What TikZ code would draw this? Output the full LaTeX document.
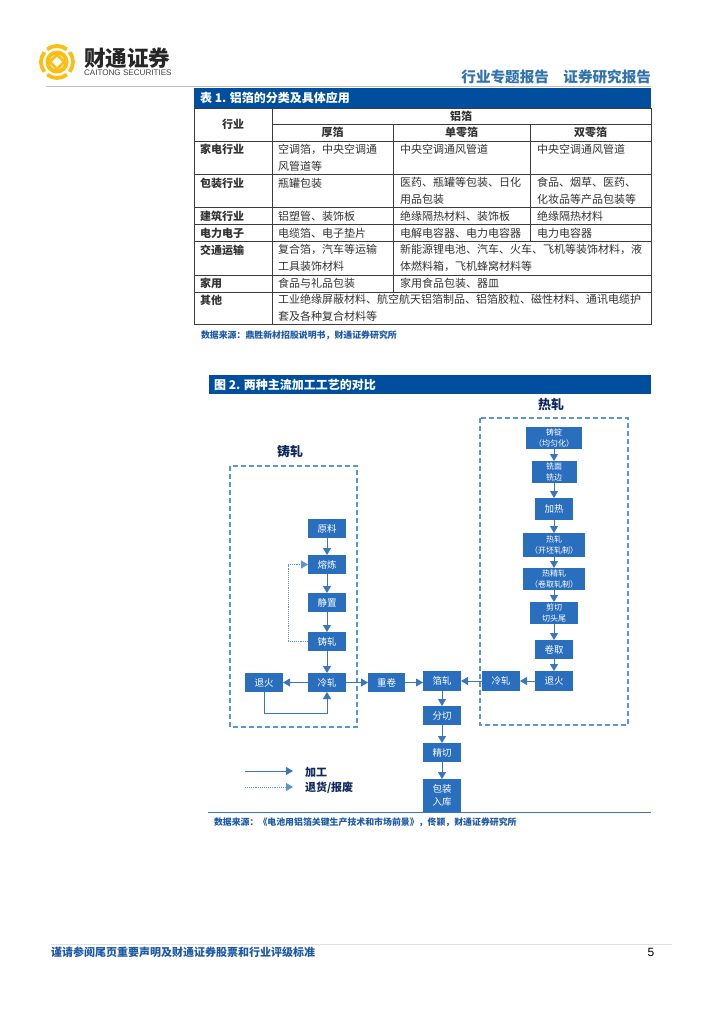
\documentclass[tikz,border=0pt]{standalone}
\usepackage{fontspec}
\setmainfont{Noto Sans CJK SC}
\newfontfamily\latinsans{Liberation Sans}
\usetikzlibrary{arrows.meta}
\definecolor{bandblue}{RGB}{0,78,158}
\definecolor{boxblue}{RGB}{42,110,190}
\definecolor{arrowblue}{RGB}{58,117,190}
\definecolor{dashblue}{RGB}{90,150,215}
\definecolor{headblue}{RGB}{50,115,175}
\definecolor{srcblue}{RGB}{30,90,165}
\definecolor{navy}{RGB}{15,40,95}
\definecolor{tablegrey}{RGB}{60,60,60}
\definecolor{logogold}{RGB}{250,190,20}
\tikzset{
  every node/.style={inner sep=0pt,outer sep=0pt},
  tline/.style={draw=tablegrey,line width=0.8pt},
  tc/.style={anchor=west,align=left,text=black!80,font=\fontsize{11}{16.6}\selectfont},
  tl/.style={anchor=west,align=left,text=black!80,font=\fontsize{11}{16.6}\bfseries\selectfont},
  th/.style={anchor=center,align=center,text=black!80,font=\fontsize{11}{16.6}\bfseries\selectfont},
  pbox/.style={fill=boxblue,text=white,align=center,font=\fontsize{9.5}{12.5}\selectfont},
  small/.style={font=\fontsize{8}{11}\selectfont},
  flow/.style={draw=arrowblue,line width=0.8pt,-{Triangle[length=7pt,width=8pt]}},
  backflow/.style={draw=dashblue,line width=0.9pt,densely dotted,-{Triangle[length=7pt,width=8pt]}},
  region/.style={draw=dashblue,line width=1.1pt,dash pattern=on 5pt off 3pt},
  band/.style={fill=bandblue,text=white,anchor=west},
  src/.style={anchor=west,text=srcblue,font=\fontsize{8.9}{11}\bfseries\selectfont},
  flowtitle/.style={anchor=center,text=navy,font=\fontsize{13}{15}\bfseries\selectfont},
  legend/.style={anchor=west,text=navy,font=\fontsize{11}{13}\bfseries\selectfont}
}
\newcommand{\pb}[7][]{\node[pbox,#1,minimum width=#5pt,minimum height=#6pt] (#2) at (#3,#4) {#7};}
\begin{document}
\begin{tikzpicture}[x=1pt,y=-1pt]
\useasboundingbox (0,0) rectangle (724,1024);
\fill[white] (0,0) rectangle (724,1024);

% logo
\begin{scope}[shift={(57,62)}]
  \draw[logogold,line width=3.8pt] (-38:16) arc (-38:38:16);
  \draw[logogold,line width=3.8pt] (142:16) arc (142:218:16);
  \draw[logogold,line width=3.8pt] (52:16) arc (52:128:16);
  \draw[logogold,line width=3.8pt] (232:16) arc (232:308:16);
  \draw[logogold,line width=4pt] (0,0) circle (9.5);
  \fill[logogold] (0,-9) -- (9,0) -- (0,9) -- (-9,0) -- cycle;
  \fill[white] (0,-5) -- (5,0) -- (0,5) -- (-5,0) -- cycle;
\end{scope}
\node[anchor=west,text=black!85,font=\fontsize{21.6}{23}\bfseries\selectfont] (logotext) at (84,58) {财通证券};
\node[anchor=west,text=black!75,font=\fontsize{8.1}{9}\latinsans\selectfont] (logolatin) at (84,72.5) {CAITONG SECURITIES};
\node[anchor=east,text=headblue,font=\fontsize{14.6}{16}\bfseries\selectfont] (headb) at (651,77) {证券研究报告};
\node[anchor=east,text=headblue,font=\fontsize{14.6}{16}\bfseries\selectfont] (heada) at (549,77) {行业专题报告};
\draw[black!25,line width=1.8pt] (46,86.5) -- (651,86.5);

% table
\node[band,minimum width=457pt,minimum height=20pt] (tabband) at (194,98) {};
\node[anchor=west,text=white,font=\fontsize{12}{14}\bfseries\selectfont] (tabtitle) at (200,98) {表 1. 铝箔的分类及具体应用};
\draw[tline] (194,108) rectangle (651,324);
\foreach \yy in {141,174,207,224,241,275,292} \draw[tline] (194,\yy) -- (651,\yy);
\draw[tline] (272,108) -- (272,324);
\draw[tline] (272,124) -- (651,124);
\draw[tline] (393,124) -- (393,292);
\draw[tline] (530,124) -- (530,241);

\node[th] (hind) at (233,124.5) {行业};
\node[th] (hal) at (461,116) {铝箔};
\node[th] (ha) at (332.5,132.5) {厚箔};
\node[th] (hb) at (461.5,132.5) {单零箔};
\node[th] (hc) at (590.5,132.5) {双零箔};

\node[tl] (r1) at (200,149) {家电行业};
\node[tc] (r1a) at (278,157.5) {空调箔，中央空调通\\风管道等};
\node[tc] (r1b) at (400,149) {中央空调通风管道};
\node[tc] (r1c) at (537,149) {中央空调通风管道};

\node[tl] (r2) at (200,183) {包装行业};
\node[tc] (r2a) at (278,183) {瓶罐包装};
\node[tc] (r2b) at (400,191) {医药、瓶罐等包装、日化\\用品包装};
\node[tc] (r2c) at (537,191) {食品、烟草、医药、\\化妆品等产品包装等};

\node[tl] (r3) at (200,216) {建筑行业};
\node[tc] (r3a) at (278,216) {铝塑管、装饰板};
\node[tc] (r3b) at (400,216) {绝缘隔热材料、装饰板};
\node[tc] (r3c) at (537,216) {绝缘隔热材料};

\node[tl] (r4) at (200,233) {电力电子};
\node[tc] (r4a) at (278,233) {电缆箔、电子垫片};
\node[tc] (r4b) at (400,233) {电解电容器、电力电容器};
\node[tc] (r4c) at (537,233) {电力电容器};

\node[tl] (r5) at (200,250) {交通运输};
\node[tc] (r5a) at (278,258) {复合箔，汽车等运输\\工具装饰材料};
\node[tc] (r5b) at (400,258) {新能源锂电池、汽车、火车、飞机等装饰材料，液\\体燃料箱，飞机蜂窝材料等};

\node[tl] (r6) at (200,283.5) {家用};
\node[tc] (r6a) at (278,283.5) {食品与礼品包装};
\node[tc] (r6b) at (400,283.5) {家用食品包装、器皿};

\node[tl] (r7) at (200,300) {其他};
\node[tc] (r7a) at (278,308) {工业绝缘屏蔽材料、航空航天铝箔制品、铝箔胶粒、磁性材料、通讯电缆护\\套及各种复合材料等};

\node[src] (tabsrc) at (201,335) {数据来源：鼎胜新材招股说明书，财通证券研究所};

% figure
\node[band,minimum width=442pt,minimum height=19pt] (figband) at (209,384.5) {};
\node[anchor=west,text=white,font=\fontsize{12}{14}\bfseries\selectfont] (figtitle) at (214,384.5) {图 2. 两种主流加工工艺的对比};

\draw[region] (230,466) rectangle (357,727);
\draw[region] (480,418) rectangle (628,725);
\node[flowtitle] (ttl) at (290,452) {铸轧};
\node[flowtitle] (ttr) at (551,405) {热轧};

% left column
\pb{yl}{327}{528.5}{38}{19}{原料}
\pb{rl}{327}{564.5}{38}{19}{熔炼}
\pb{jz}{327}{602.5}{38}{19}{静置}
\pb{zz}{327}{641.5}{38}{19}{铸轧}
\pb{lz}{327}{682.5}{38}{19}{冷轧}
\pb{th}{264}{682.5}{38}{19}{退火}
\pb{cj}{386.5}{682.5}{37}{19}{重卷}

% centre column
\pb{bz}{442}{681}{38}{20}{箔轧}
\pb{fq}{442}{715.5}{38}{19}{分切}
\pb{jq}{442}{752.5}{38}{19}{精切}
\pb{bj}{442}{795.5}{38}{33}{包装\\入库}

% right column
\pb[small]{zd}{554}{438}{56}{22}{铸锭\\（均匀化）}
\pb[small]{xm}{554}{472}{45}{22}{铣面\\铣边}
\pb{jr}{554}{509}{38}{22}{加热}
\pb[small]{rz}{554}{545}{62}{24}{热轧\\（开坯轧制）}
\pb[small]{rj}{554}{579}{62}{22}{热精轧\\（卷取轧制）}
\pb[small]{jq2}{554}{613}{48}{22}{剪切\\切头尾}
\pb{jn}{554}{649.5}{38}{19}{卷取}
\pb{th2}{554}{681}{38}{20}{退火}
\pb{lz2}{501}{681}{38}{20}{冷轧}

% connectors
\draw[flow] (yl) -- (rl);
\draw[flow] (rl) -- (jz);
\draw[flow] (jz) -- (zz);
\draw[flow] (zz) -- (lz);
\draw[flow] (lz) -- (th);
\draw[flow] (lz.east) -- (cj.west);
\draw[flow] (cj.east) -- (bz.west |- cj.east);
\coordinate (loopa) at (264,713);
\coordinate (loopb) at (327,713);
\draw[flow] (th.south) -- (loopa) -- (loopb) -- (lz.south);
\coordinate (backa) at (288,641.5);
\coordinate (backb) at (288,564.5);
\draw[backflow] (zz.west) -- (backa) -- (backb) -- (rl.west);
\draw[flow] (zd) -- (xm);
\draw[flow] (xm) -- (jr);
\draw[flow] (jr) -- (rz);
\draw[flow] (rz) -- (rj);
\draw[flow] (rj) -- (jq2);
\draw[flow] (jq2) -- (jn);
\draw[flow] (jn) -- (th2);
\draw[flow] (th2) -- (lz2);
\draw[flow] (lz2) -- (bz);
\draw[flow] (bz) -- (fq);
\draw[flow] (fq) -- (jq);
\draw[flow] (jq) -- (bj);

% legend
\coordinate (la1) at (245,771);
\coordinate (la2) at (293,771);
\coordinate (lb1) at (245,787);
\coordinate (lb2) at (293,787);
\draw[flow] (la1) -- (la2);
\draw[backflow] (lb1) -- (lb2);
\node[legend] (lega) at (305,772) {加工};
\node[legend] (legb) at (305,788) {退货/报废};

\draw[arrowblue,line width=0.8pt] (208,812.5) -- (651,812.5);
\node[src] (figsrc) at (214,822) {数据来源：《电池用铝箔关键生产技术和市场前景》，佟颖，财通证券研究所};

% footer
\draw[black!12,line width=1pt] (51,944) -- (672,944);
\node[anchor=west,text=srcblue,font=\fontsize{11}{13}\bfseries\selectfont] (foot) at (51,952) {谨请参阅尾页重要声明及财通证券股票和行业评级标准};
\node[anchor=center,text=black,font=\fontsize{12}{14}\latinsans\selectfont] (pageno) at (651,952) {5};
\end{tikzpicture}
\end{document}
